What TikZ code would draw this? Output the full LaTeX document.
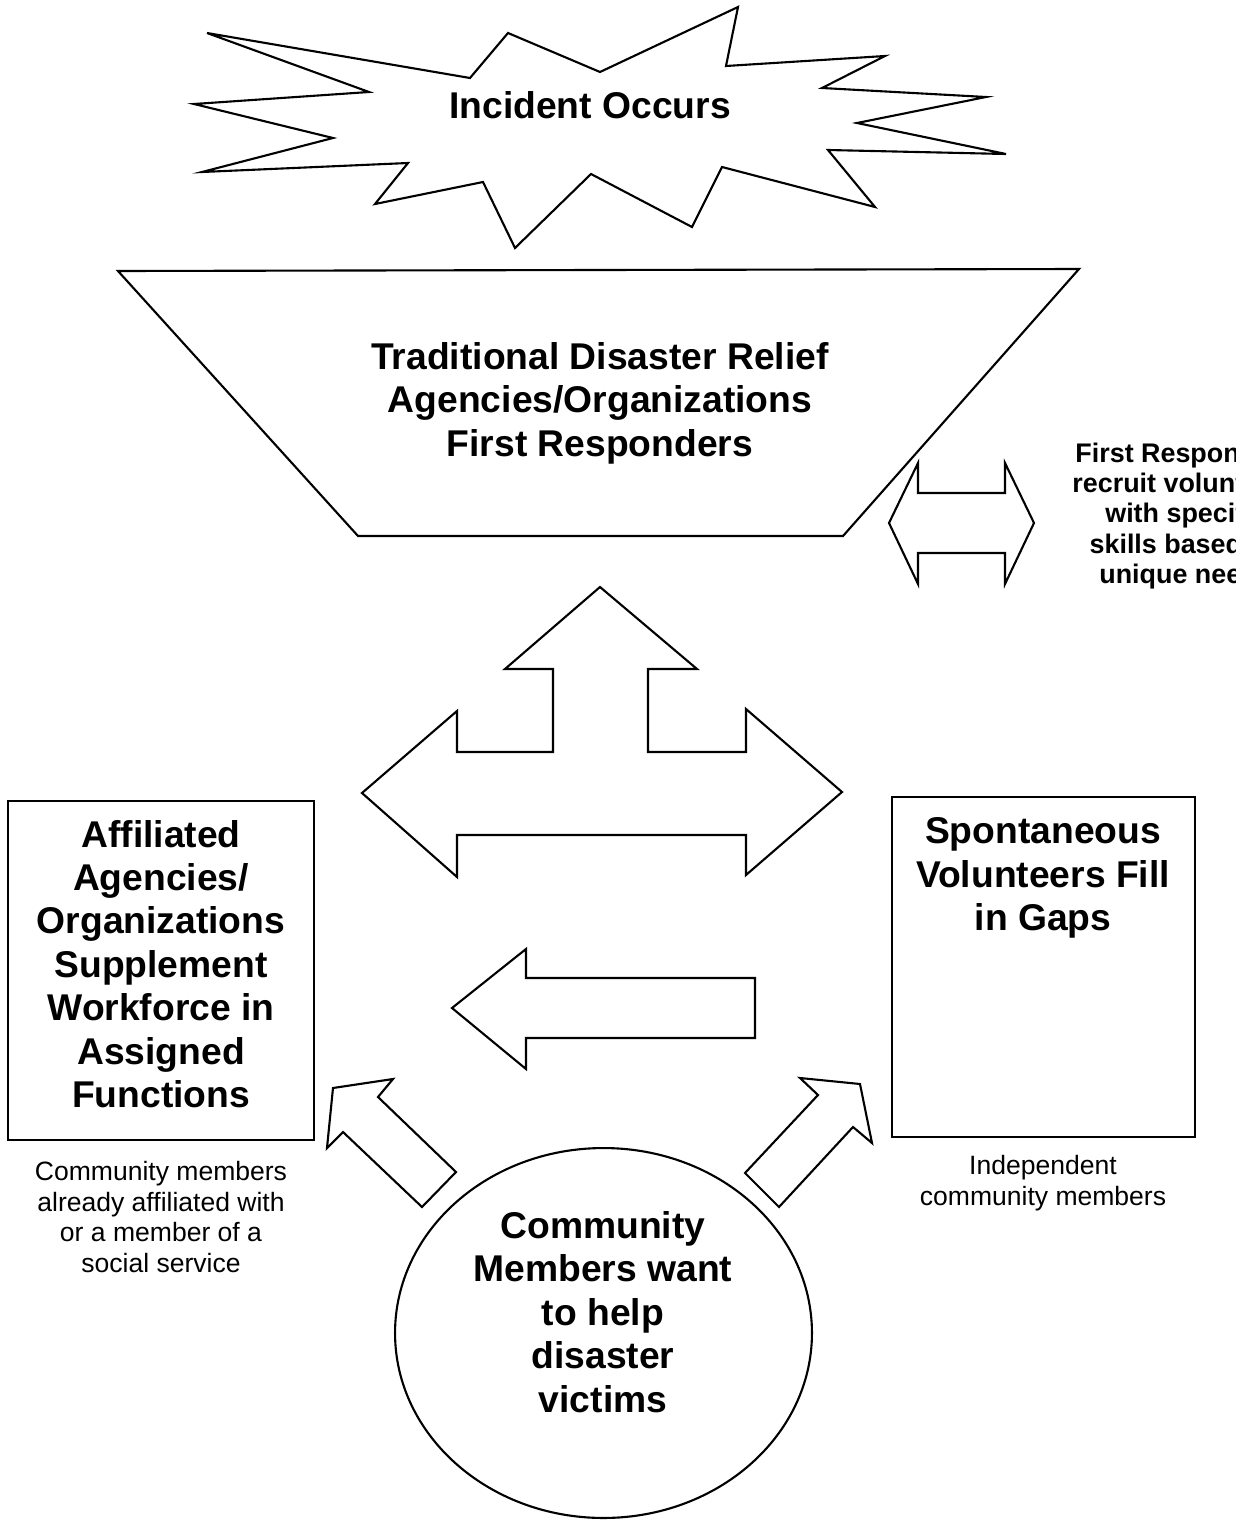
\documentclass[tikz,border=0pt]{standalone}
\usepackage{fontspec}
\setmainfont{Liberation Sans}

\begin{document}
\begin{tikzpicture}[x=0.02cm,y=-0.02cm]
  \tikzset{outline/.style={draw, line width=1.2pt, line join=miter},
    heading/.style={font=\fontsize{21.2}{24.7}\selectfont\bfseries, align=center, inner sep=0pt},
    note/.style={font=\fontsize{15.1}{17.6}\selectfont, align=center, inner sep=0pt},
    boldnote/.style={note, font=\fontsize{15.3}{17.3}\selectfont\bfseries}}
  \fill[white] (0,0) rectangle (1250,1521);
  \useasboundingbox (0,0) rectangle (1250,1521);
  % burst at the top
  \draw[outline] (207,33) -- (470,78) -- (508,33) -- (600,72) -- (738,7) -- (726,66)
    -- (885,56) -- (822,88) -- (986,97) -- (857,123) -- (1006,154) -- (828,150)
    -- (875,207) -- (722,167) -- (692,227) -- (591,174) -- (515,248) -- (483,182)
    -- (375,204) -- (408,163) -- (202,172) -- (333,138) -- (194,104) -- (369,92) -- cycle;
  \node[heading] (incident) at (590,105) {Incident Occurs};
  % funnel
  \draw[outline] (118,271) -- (1079,269) -- (843,536) -- (358,536) -- cycle;
  \node[heading] (relief) at (600,403) {Traditional Disaster Relief\\Agencies/Organizations\\First Responders};
  \draw[outline] (889,523) -- (918,463) -- (918,493) -- (1005,493) -- (1005,463) -- (1034,523)
    -- (1005,584) -- (1005,553) -- (918,553) -- (918,584) -- cycle;
  \begin{scope}
    \clip (1040,420) rectangle (1235,610);
    \node[boldnote] (recruit) at (1186,516) {First Responders\\recruit volunteers\\with specific\\skills based on\\unique needs};
  \end{scope}
  % three way arrow
  \draw[outline] (600,587) -- (697,669) -- (648,669) -- (648,752) -- (746,752) -- (746,709)
    -- (842,792) -- (746,875) -- (746,835) -- (457,835) -- (457,877) -- (362,793)
    -- (457,711) -- (457,752) -- (553,752) -- (553,669) -- (505,669) -- cycle;
  % side boxes
  \draw[outline] (8,801) rectangle (314,1140);
  \node[heading] (affiliated) at (161,964) {Affiliated\\Agencies/\\Organizations\\Supplement\\Workforce in\\Assigned\\Functions};
  \node[note] (affnote) at (161,1217) {Community members\\already affiliated with\\or a member of a\\social service};
  \draw[outline] (892,797) rectangle (1195,1137);
  \node[heading] (spontaneous) at (1043,878) {Spontaneous\\Volunteers Fill\\in Gaps};
  \node[note] (indnote) at (1043,1183) {Independent\\community members};
  \draw[outline] (452,1008) -- (526,949) -- (526,978) -- (755,978) -- (755,1038) -- (526,1038)
    -- (526,1069) -- cycle;
  % community circle and its two arrows
  \draw[outline] (333,1088) -- (393,1079) -- (378,1097) -- (456,1172) -- (422,1207)
    -- (343,1132) -- (327,1148) -- cycle;
  \draw[outline] (860,1084) -- (872,1143) -- (853,1127) -- (779,1207) -- (745,1173)
    -- (818,1095) -- (800,1078) -- cycle;
  \draw[outline] (603.5,1333) ellipse [x radius=4.17cm, y radius=3.7cm];
  \node[heading] (community) at (603,1312) {Community\\Members want\\to help\\disaster\\victims};
\end{tikzpicture}
\end{document}
